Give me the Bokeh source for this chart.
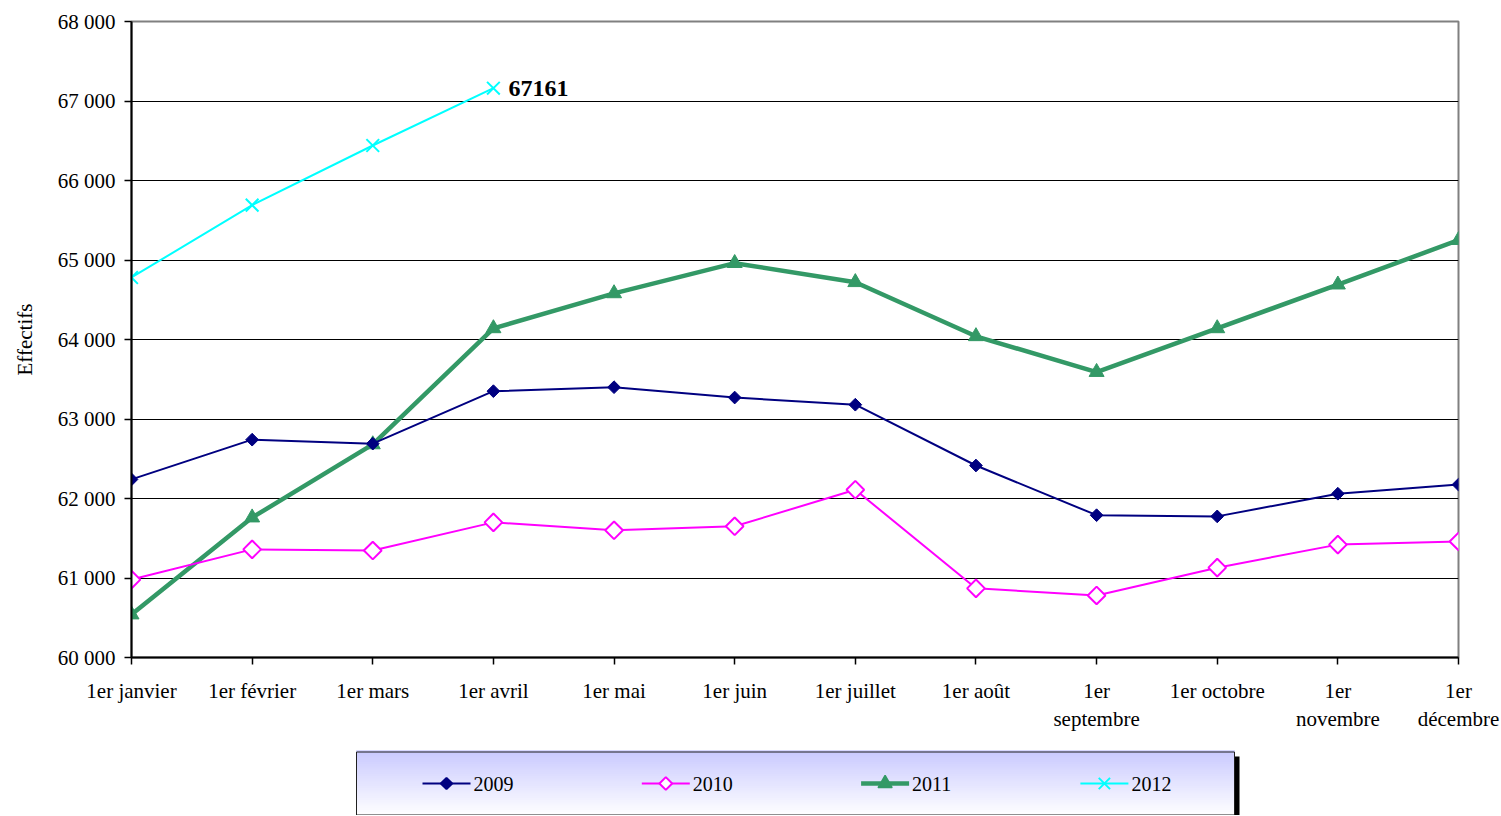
import numpy as np
from bokeh.plotting import figure
from bokeh.models import Range1d, FixedTicker
from bokeh.layouts import column
from bokeh.core.properties import value
from bokeh.embed import file_html
from bokeh.resources import INLINE

# ---------------- data ----------------
months = ["1er janvier", "1er février", "1er mars", "1er avril", "1er mai", "1er juin",
          "1er juillet", "1er août", "1er\nseptembre", "1er octobre", "1er\nnovembre",
          "1er\ndécembre"]
y_ticks = [60000, 61000, 62000, 63000, 64000, 65000, 66000, 67000, 68000]
y_tick_labels = ["60 000", "61 000", "62 000", "63 000", "64 000", "65 000",
                 "66 000", "67 000", "68 000"]

years = ["2009", "2010", "2011", "2012"]
v2009 = [62240, 62740, 62690, 63350, 63400, 63270, 63180, 62415, 61790, 61775, 62060, 62175]
v2010 = [60980, 61360, 61345, 61700, 61600, 61650, 62110, 60870, 60780, 61130, 61420, 61460]
v2011 = [60540, 61760, 62680, 64140, 64580, 64960, 64720, 64040, 63590, 64140, 64690, 65250]
v2012 = [64780, 65690, 66440, 67161]
last_label = "67161"

FONT = "Liberation Serif"

# ---------------- main figure ----------------
W = 1500
H_MAIN = 748
BL, BR = 131, 42
p = figure(width=W, height=H_MAIN, output_backend="svg", toolbar_location=None,
           x_range=Range1d(0, 11), y_range=Range1d(60000, 68000),
           min_border_left=BL, min_border_right=BR, min_border_top=21,
           min_border_bottom=91)
p.background_fill_color = "white"
p.border_fill_color = "white"
p.outline_line_color = "#808080"
p.outline_line_width = 2

xs = list(range(len(months)))
p.xaxis.ticker = FixedTicker(ticks=xs)
p.xaxis.major_label_overrides = {i: m for i, m in enumerate(months)}
p.yaxis.ticker = FixedTicker(ticks=y_ticks)
p.yaxis.major_label_overrides = {t: l for t, l in zip(y_ticks, y_tick_labels)}

for ax in (p.xaxis[0], p.yaxis[0]):
    ax.axis_line_color = "black"
    ax.axis_line_width = 2
    ax.major_tick_line_color = "black"
    ax.major_tick_line_width = 1.5
    ax.major_tick_out = 7
    ax.major_tick_in = 0
    ax.minor_tick_line_color = None
    ax.major_label_text_font = FONT
    ax.major_label_text_font_size = "21px"
    ax.major_label_text_color = "black"

p.yaxis.major_label_standoff = 9
p.xaxis.major_label_standoff = 14
p.yaxis.axis_label = "Effectifs"
p.yaxis.axis_label_text_font = FONT
p.yaxis.axis_label_text_font_size = "21px"
p.yaxis.axis_label_text_font_style = "normal"
p.yaxis.axis_label_text_color = "black"
p.yaxis.axis_label_standoff = 18

p.xgrid.grid_line_color = None
p.ygrid.grid_line_color = "black"
p.ygrid.grid_line_width = 1

# 2011 (thick green, triangles)
p.line(xs, v2011, line_color="#339966", line_width=4.5)
p.scatter(xs, v2011, marker="triangle", size=15, fill_color="#339966",
          line_color="#339966")
# 2009 (navy, filled diamonds)
p.line(xs, v2009, line_color="#000080", line_width=2)
p.scatter(xs, v2009, marker="square", angle=np.pi / 4, size=9,
          fill_color="#000080", line_color="#000080")
# 2010 (magenta, open diamonds)
p.line(xs, v2010, line_color="#FF00FF", line_width=2)
p.scatter(xs, v2010, marker="square", angle=np.pi / 4, size=12.5,
          fill_color="white", line_color="#FF00FF", line_width=2)
# 2012 (cyan, crosses)
x12 = xs[:len(v2012)]
p.line(x12, v2012, line_color="#00FFFF", line_width=2)
p.scatter(x12, v2012, marker="x", size=18, line_color="#00FFFF", line_width=2)

p.text(x=[x12[-1]], y=[v2012[-1]], text=[last_label], x_offset=15,
       text_baseline="middle", text_align="left", text_font=value(FONT),
       text_font_size="24px", text_font_style="bold", text_color="black")

# ---------------- legend figure ----------------
# frame aligned with the main frame; x coordinates in page pixels
H_LEG = 67
lg = figure(width=W, height=H_LEG, output_backend="svg", toolbar_location=None,
            x_range=Range1d(BL, W - BR), y_range=Range1d(0, H_LEG),
            min_border_left=BL, min_border_right=BR,
            min_border_top=0, min_border_bottom=0)
lg.axis.visible = False
lg.grid.visible = False
lg.outline_line_color = None
lg.background_fill_color = "white"
lg.border_fill_color = "white"

bx0, bx1, by0, by1 = 356, 1234, 0, 64
# shadow
lg.quad(left=[bx0 + 5], right=[bx1 + 5], bottom=[by0], top=[by1 - 5],
        fill_color="black", line_color=None)
# opaque base so that no shadow shows through the gradient seams
lg.quad(left=[bx0], right=[bx1], bottom=[by0], top=[by1],
        fill_color="white", line_color=None)
# gradient: lavender at the top, white at the bottom
n = 32
edges = np.linspace(by0, by1, n + 1)
cols = []
for i in range(n):
    t = (edges[i] + edges[i + 1]) / 2.0 / (by1 - by0)  # 0 bottom -> 1 top
    c = int(round(255 - t * (255 - 202)))
    cols.append("#%02x%02x%02x" % (c, c, 255))
lg.quad(left=[bx0] * n, right=[bx1] * n, bottom=edges[:-1], top=edges[1:] + 1.0,
        fill_color=cols, line_color=cols, line_width=0.5)
lg.quad(left=[bx0], right=[bx1], bottom=[by0 + 0.5], top=[by1 - 0.5],
        fill_color=None, line_color="#202020", line_width=1)

cy = 32
styles = [
    dict(color="#000080", lw=2, marker="square", angle=np.pi / 4, size=8, fill="#000080"),
    dict(color="#FF00FF", lw=2, marker="square", angle=np.pi / 4, size=9, fill="white"),
    dict(color="#339966", lw=4.5, marker="triangle", angle=0, size=14, fill="#339966"),
    dict(color="#00FFFF", lw=2, marker="x", angle=0, size=16, fill=None),
]
for i, (yr, st) in enumerate(zip(years, styles)):
    x0 = 422 + i * 219.3
    lg.line([x0, x0 + 48], [cy, cy], line_color=st["color"], line_width=st["lw"])
    lg.scatter([x0 + 24], [cy], marker=st["marker"], angle=st["angle"], size=st["size"],
               fill_color=st["fill"], line_color=st["color"],
               line_width=2 if st["fill"] != "#339966" else 1.5)
    lg.text(x=[x0 + 51], y=[cy], text=[yr], text_baseline="middle", text_align="left",
            text_font=value(FONT), text_font_size="20px", text_color="black")

layout = column(p, lg, spacing=0)
open("out.html", "w").write(file_html(layout, INLINE))
